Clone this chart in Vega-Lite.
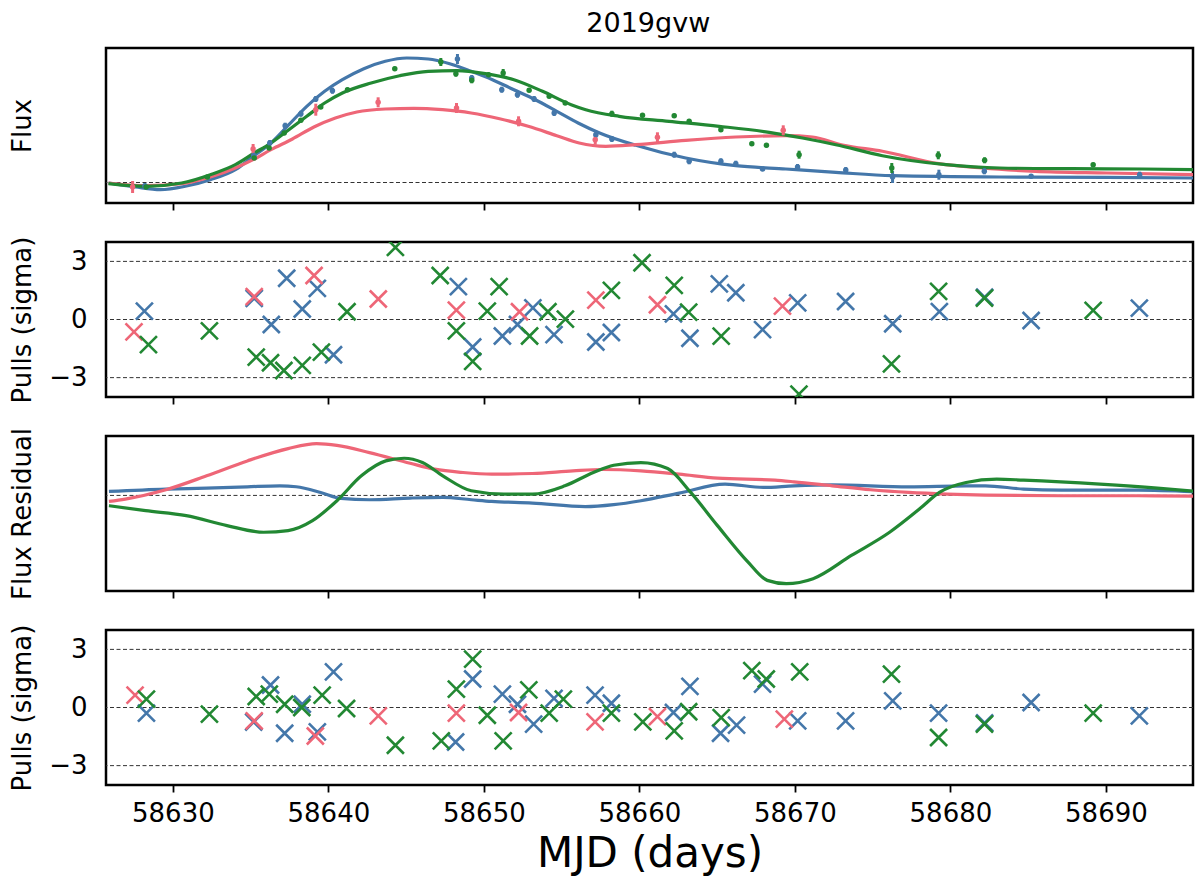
{
  "$schema": "https://vega.github.io/schema/vega-lite/v6.json",
  "background": "white",
  "padding": {"left": 7, "top": 9, "right": 6, "bottom": 4},
  "title": {"text": "2019gvw", "font": "DejaVu Sans", "fontSize": 27, "fontWeight": "normal", "color": "black", "anchor": "middle", "offset": 9, "dx": 47},
  "datasets": {
    "model": [
      {"band": "g", "mjd": 58625.86, "flux": -0.5}, {"band": "g", "mjd": 58627.59, "flux": -4.5}, {"band": "g", "mjd": 58629.2, "flux": -7.2},
      {"band": "g", "mjd": 58630.8, "flux": -3.8}, {"band": "g", "mjd": 58632.41, "flux": 2.8}, {"band": "g", "mjd": 58634.02, "flux": 12.8},
      {"band": "g", "mjd": 58635.16, "flux": 26.2}, {"band": "g", "mjd": 58636.31, "flux": 39.5}, {"band": "g", "mjd": 58637.46, "flux": 57.8},
      {"band": "g", "mjd": 58638.61, "flux": 76.2}, {"band": "g", "mjd": 58639.76, "flux": 91.2}, {"band": "g", "mjd": 58640.9, "flux": 102.8},
      {"band": "g", "mjd": 58642.28, "flux": 113.8}, {"band": "g", "mjd": 58643.66, "flux": 121.2}, {"band": "g", "mjd": 58645.04, "flux": 124.5},
      {"band": "g", "mjd": 58646.42, "flux": 123.5}, {"band": "g", "mjd": 58647.8, "flux": 118.8}, {"band": "g", "mjd": 58649.18, "flux": 111.2},
      {"band": "g", "mjd": 58650.55, "flux": 102.8}, {"band": "g", "mjd": 58651.93, "flux": 92.8}, {"band": "g", "mjd": 58653.31, "flux": 82.8},
      {"band": "g", "mjd": 58654.69, "flux": 71.2}, {"band": "g", "mjd": 58656.06, "flux": 59.5}, {"band": "g", "mjd": 58657.44, "flux": 49.5},
      {"band": "g", "mjd": 58659.77, "flux": 37.2}, {"band": "g", "mjd": 58662.98, "flux": 24.5}, {"band": "g", "mjd": 58666.2, "flux": 16.8},
      {"band": "g", "mjd": 58669.42, "flux": 13.5}, {"band": "g", "mjd": 58672.63, "flux": 10.2}, {"band": "g", "mjd": 58676.28, "flux": 6.8},
      {"band": "g", "mjd": 58683.16, "flux": 5.5}, {"band": "g", "mjd": 58690.04, "flux": 5.2}, {"band": "g", "mjd": 58695.76, "flux": 4.5},
      {"band": "r", "mjd": 58625.86, "flux": -0.5}, {"band": "r", "mjd": 58628.28, "flux": -3.2}, {"band": "r", "mjd": 58630.57, "flux": -1.2},
      {"band": "r", "mjd": 58632.41, "flux": 5.5}, {"band": "r", "mjd": 58634.02, "flux": 14.5}, {"band": "r", "mjd": 58635.16, "flux": 22.8},
      {"band": "r", "mjd": 58636.31, "flux": 32.8}, {"band": "r", "mjd": 58637.69, "flux": 43.5}, {"band": "r", "mjd": 58639.07, "flux": 55.5},
      {"band": "r", "mjd": 58640.45, "flux": 64.5}, {"band": "r", "mjd": 58641.83, "flux": 70.5}, {"band": "r", "mjd": 58643.66, "flux": 73.5},
      {"band": "r", "mjd": 58645.5, "flux": 74.2}, {"band": "r", "mjd": 58647.34, "flux": 72.8}, {"band": "r", "mjd": 58649.18, "flux": 69.5},
      {"band": "r", "mjd": 58651.01, "flux": 63.8}, {"band": "r", "mjd": 58652.85, "flux": 56.2}, {"band": "r", "mjd": 58654.69, "flux": 46.8},
      {"band": "r", "mjd": 58656.13, "flux": 39.5}, {"band": "r", "mjd": 58657.84, "flux": 36.2}, {"band": "r", "mjd": 58659.77, "flux": 37.8},
      {"band": "r", "mjd": 58662.98, "flux": 42.2}, {"band": "r", "mjd": 58666.2, "flux": 45.5}, {"band": "r", "mjd": 58669.42, "flux": 46.8},
      {"band": "r", "mjd": 58671.13, "flux": 45.5}, {"band": "r", "mjd": 58673.06, "flux": 37.5}, {"band": "r", "mjd": 58675.63, "flux": 31.2},
      {"band": "r", "mjd": 58679.26, "flux": 18.8}, {"band": "r", "mjd": 58682.02, "flux": 14.5}, {"band": "r", "mjd": 58685.47, "flux": 11.2},
      {"band": "r", "mjd": 58690.06, "flux": 9.5}, {"band": "r", "mjd": 58695.76, "flux": 7.8},
      {"band": "i", "mjd": 58625.86, "flux": -1.2}, {"band": "i", "mjd": 58628.28, "flux": -3.8}, {"band": "i", "mjd": 58630.57, "flux": -0.5},
      {"band": "i", "mjd": 58632.41, "flux": 7.8}, {"band": "i", "mjd": 58634.02, "flux": 17.8}, {"band": "i", "mjd": 58635.16, "flux": 28.8},
      {"band": "i", "mjd": 58636.31, "flux": 39.5}, {"band": "i", "mjd": 58637.46, "flux": 52.8}, {"band": "i", "mjd": 58638.61, "flux": 66.2},
      {"band": "i", "mjd": 58639.76, "flux": 79.5}, {"band": "i", "mjd": 58640.9, "flux": 89.5}, {"band": "i", "mjd": 58642.75, "flux": 99.5},
      {"band": "i", "mjd": 58644.58, "flux": 106.8}, {"band": "i", "mjd": 58646.42, "flux": 111.2}, {"band": "i", "mjd": 58648.26, "flux": 111.8},
      {"band": "i", "mjd": 58650.1, "flux": 108.8}, {"band": "i", "mjd": 58651.93, "flux": 102.8}, {"band": "i", "mjd": 58653.77, "flux": 91.2},
      {"band": "i", "mjd": 58655.61, "flux": 77.8}, {"band": "i", "mjd": 58656.55, "flux": 72.8}, {"band": "i", "mjd": 58658.7, "flux": 66.2},
      {"band": "i", "mjd": 58661.91, "flux": 61.2}, {"band": "i", "mjd": 58665.13, "flux": 56.2}, {"band": "i", "mjd": 58668.35, "flux": 50.2},
      {"band": "i", "mjd": 58670.49, "flux": 44.5}, {"band": "i", "mjd": 58672.63, "flux": 37.8}, {"band": "i", "mjd": 58675.63, "flux": 26.8},
      {"band": "i", "mjd": 58679.72, "flux": 17.8}, {"band": "i", "mjd": 58683.17, "flux": 14.5}, {"band": "i", "mjd": 58687.76, "flux": 13.8},
      {"band": "i", "mjd": 58692.35, "flux": 13.5}, {"band": "i", "mjd": 58695.76, "flux": 12.8}
    ],
    "obs": [
      {"band": "g", "mjd": 58628.2, "flux": -3.5, "err": 3}, {"band": "g", "mjd": 58635.2, "flux": 27, "err": 3},
      {"band": "g", "mjd": 58636.23, "flux": 39.5, "err": 3}, {"band": "g", "mjd": 58637.22, "flux": 56.8, "err": 3},
      {"band": "g", "mjd": 58638.23, "flux": 68.8, "err": 3}, {"band": "g", "mjd": 58639.19, "flux": 83.5, "err": 3},
      {"band": "g", "mjd": 58640.26, "flux": 91.8, "err": 3}, {"band": "g", "mjd": 58648.3, "flux": 123.5, "err": 5},
      {"band": "g", "mjd": 58649.22, "flux": 104.5, "err": 3}, {"band": "g", "mjd": 58651.15, "flux": 92.8, "err": 3},
      {"band": "g", "mjd": 58652.16, "flux": 87.8, "err": 3}, {"band": "g", "mjd": 58653.23, "flux": 83.5, "err": 3},
      {"band": "g", "mjd": 58654.52, "flux": 69.5, "err": 3}, {"band": "g", "mjd": 58657.2, "flux": 47.8, "err": 4},
      {"band": "g", "mjd": 58658.23, "flux": 43.5, "err": 3}, {"band": "g", "mjd": 58662.24, "flux": 27.8, "err": 3},
      {"band": "g", "mjd": 58663.2, "flux": 21.2, "err": 3}, {"band": "g", "mjd": 58665.24, "flux": 21.2, "err": 3},
      {"band": "g", "mjd": 58666.2, "flux": 18.8, "err": 3}, {"band": "g", "mjd": 58667.92, "flux": 13.5, "err": 2},
      {"band": "g", "mjd": 58670.17, "flux": 15.5, "err": 3}, {"band": "g", "mjd": 58673.27, "flux": 12.5, "err": 3},
      {"band": "g", "mjd": 58676.28, "flux": 5.5, "err": 6}, {"band": "g", "mjd": 58679.26, "flux": 7.8, "err": 5},
      {"band": "g", "mjd": 58682.18, "flux": 11.2, "err": 3}, {"band": "g", "mjd": 58685.19, "flux": 6.2, "err": 2},
      {"band": "g", "mjd": 58692.17, "flux": 7.8, "err": 3},
      {"band": "r", "mjd": 58627.41, "flux": -4.5, "err": 6}, {"band": "r", "mjd": 58635.16, "flux": 33.5, "err": 5},
      {"band": "r", "mjd": 58639.19, "flux": 72.8, "err": 6}, {"band": "r", "mjd": 58643.2, "flux": 80.2, "err": 5},
      {"band": "r", "mjd": 58648.24, "flux": 74.5, "err": 5}, {"band": "r", "mjd": 58652.23, "flux": 61.2, "err": 5},
      {"band": "r", "mjd": 58657.16, "flux": 42.8, "err": 5}, {"band": "r", "mjd": 58661.16, "flux": 45.2, "err": 5},
      {"band": "r", "mjd": 58669.25, "flux": 52.2, "err": 5},
      {"band": "i", "mjd": 58628.28, "flux": -4.5, "err": 2}, {"band": "i", "mjd": 58632.22, "flux": 5.5, "err": 2},
      {"band": "i", "mjd": 58635.23, "flux": 24.5, "err": 2}, {"band": "i", "mjd": 58636.19, "flux": 34.5, "err": 2},
      {"band": "i", "mjd": 58637.16, "flux": 49.5, "err": 2}, {"band": "i", "mjd": 58638.23, "flux": 62.2, "err": 2},
      {"band": "i", "mjd": 58639.51, "flux": 75.5, "err": 2}, {"band": "i", "mjd": 58641.23, "flux": 92.8, "err": 2},
      {"band": "i", "mjd": 58644.27, "flux": 113.8, "err": 2}, {"band": "i", "mjd": 58647.23, "flux": 120.5, "err": 4},
      {"band": "i", "mjd": 58648.2, "flux": 108.8, "err": 3}, {"band": "i", "mjd": 58649.22, "flux": 102.2, "err": 3},
      {"band": "i", "mjd": 58650.3, "flux": 107.8, "err": 2}, {"band": "i", "mjd": 58651.24, "flux": 109.5, "err": 4},
      {"band": "i", "mjd": 58652.91, "flux": 92.2, "err": 2}, {"band": "i", "mjd": 58654.2, "flux": 86.2, "err": 2},
      {"band": "i", "mjd": 58655.23, "flux": 79.5, "err": 2}, {"band": "i", "mjd": 58658.23, "flux": 68.8, "err": 3},
      {"band": "i", "mjd": 58660.2, "flux": 67.2, "err": 2}, {"band": "i", "mjd": 58662.24, "flux": 66.8, "err": 2},
      {"band": "i", "mjd": 58663.2, "flux": 61.2, "err": 2}, {"band": "i", "mjd": 58665.24, "flux": 52.8, "err": 2},
      {"band": "i", "mjd": 58667.23, "flux": 38.8, "err": 2}, {"band": "i", "mjd": 58668.17, "flux": 37.2, "err": 2},
      {"band": "i", "mjd": 58670.27, "flux": 27.8, "err": 4}, {"band": "i", "mjd": 58676.23, "flux": 14.5, "err": 5},
      {"band": "i", "mjd": 58679.22, "flux": 27.2, "err": 4}, {"band": "i", "mjd": 58682.2, "flux": 22.2, "err": 3},
      {"band": "i", "mjd": 58689.18, "flux": 17.8, "err": 2}
    ],
    "pull1": [
      {"band": "g", "mjd": 58628.17, "pull": 0.43}, {"band": "g", "mjd": 58635.23, "pull": 1.09}, {"band": "g", "mjd": 58636.33, "pull": -0.26},
      {"band": "g", "mjd": 58637.32, "pull": 2.13}, {"band": "g", "mjd": 58638.32, "pull": 0.54}, {"band": "g", "mjd": 58639.29, "pull": 1.61},
      {"band": "g", "mjd": 58640.33, "pull": -1.82}, {"band": "g", "mjd": 58648.36, "pull": 1.7}, {"band": "g", "mjd": 58649.28, "pull": -1.42},
      {"band": "g", "mjd": 58651.19, "pull": -0.85}, {"band": "g", "mjd": 58652.16, "pull": -0.26}, {"band": "g", "mjd": 58653.15, "pull": 0.6},
      {"band": "g", "mjd": 58654.51, "pull": -0.78}, {"band": "g", "mjd": 58657.2, "pull": -1.16}, {"band": "g", "mjd": 58658.2, "pull": -0.67},
      {"band": "g", "mjd": 58662.19, "pull": 0.29}, {"band": "g", "mjd": 58663.25, "pull": -0.97}, {"band": "g", "mjd": 58665.14, "pull": 1.84},
      {"band": "g", "mjd": 58666.2, "pull": 1.38}, {"band": "g", "mjd": 58667.92, "pull": -0.52}, {"band": "g", "mjd": 58670.18, "pull": 0.86},
      {"band": "g", "mjd": 58673.26, "pull": 0.93}, {"band": "g", "mjd": 58676.29, "pull": -0.22}, {"band": "g", "mjd": 58679.29, "pull": 0.41},
      {"band": "g", "mjd": 58682.2, "pull": 1.15}, {"band": "g", "mjd": 58685.19, "pull": -0.05}, {"band": "g", "mjd": 58692.15, "pull": 0.59},
      {"band": "r", "mjd": 58627.5, "pull": -0.64}, {"band": "r", "mjd": 58635.23, "pull": 1.18}, {"band": "r", "mjd": 58639.08, "pull": 2.27},
      {"band": "r", "mjd": 58643.21, "pull": 1.06}, {"band": "r", "mjd": 58648.23, "pull": 0.48}, {"band": "r", "mjd": 58652.29, "pull": 0.4},
      {"band": "r", "mjd": 58657.2, "pull": 1.0}, {"band": "r", "mjd": 58661.16, "pull": 0.76}, {"band": "r", "mjd": 58669.2, "pull": 0.69},
      {"band": "i", "mjd": 58628.43, "pull": -1.3}, {"band": "i", "mjd": 58632.35, "pull": -0.59}, {"band": "i", "mjd": 58635.36, "pull": -1.94},
      {"band": "i", "mjd": 58636.28, "pull": -2.23}, {"band": "i", "mjd": 58637.14, "pull": -2.63}, {"band": "i", "mjd": 58638.32, "pull": -2.37},
      {"band": "i", "mjd": 58639.55, "pull": -1.68}, {"band": "i", "mjd": 58641.2, "pull": 0.4}, {"band": "i", "mjd": 58644.31, "pull": 3.72},
      {"band": "i", "mjd": 58647.19, "pull": 2.27}, {"band": "i", "mjd": 58648.23, "pull": -0.59}, {"band": "i", "mjd": 58649.28, "pull": -2.16},
      {"band": "i", "mjd": 58650.22, "pull": 0.43}, {"band": "i", "mjd": 58650.98, "pull": 1.7}, {"band": "i", "mjd": 58652.94, "pull": -0.85},
      {"band": "i", "mjd": 58654.12, "pull": 0.4}, {"band": "i", "mjd": 58655.24, "pull": 0.02}, {"band": "i", "mjd": 58658.2, "pull": 1.5},
      {"band": "i", "mjd": 58660.17, "pull": 2.93}, {"band": "i", "mjd": 58662.24, "pull": 1.76}, {"band": "i", "mjd": 58663.17, "pull": 0.38},
      {"band": "i", "mjd": 58665.26, "pull": -0.86}, {"band": "i", "mjd": 58670.26, "pull": -3.85}, {"band": "i", "mjd": 58676.21, "pull": -2.29},
      {"band": "i", "mjd": 58679.24, "pull": 1.45}, {"band": "i", "mjd": 58682.19, "pull": 1.1}, {"band": "i", "mjd": 58689.18, "pull": 0.47}
    ],
    "resid": [
      {"band": "g", "mjd": 58625.89, "res": 1.2}, {"band": "g", "mjd": 58629.55, "res": 1.9}, {"band": "g", "mjd": 58632.17, "res": 2.2},
      {"band": "g", "mjd": 58634.79, "res": 2.6}, {"band": "g", "mjd": 58636.88, "res": 2.9}, {"band": "g", "mjd": 58637.93, "res": 2.6},
      {"band": "g", "mjd": 58639.5, "res": 0.9}, {"band": "g", "mjd": 58640.81, "res": -0.9}, {"band": "g", "mjd": 58642.64, "res": -1.3},
      {"band": "g", "mjd": 58645.26, "res": -0.8}, {"band": "g", "mjd": 58647.36, "res": -0.6}, {"band": "g", "mjd": 58649.19, "res": -1.3},
      {"band": "g", "mjd": 58650.5, "res": -1.8}, {"band": "g", "mjd": 58653.12, "res": -2.3}, {"band": "g", "mjd": 58656.52, "res": -3.4},
      {"band": "g", "mjd": 58658.35, "res": -2.8}, {"band": "g", "mjd": 58660.1, "res": -1.6}, {"band": "g", "mjd": 58662.56, "res": 0.7},
      {"band": "g", "mjd": 58665.51, "res": 3.4}, {"band": "g", "mjd": 58667.97, "res": 2.4}, {"band": "g", "mjd": 58669.94, "res": 2.9},
      {"band": "g", "mjd": 58672.4, "res": 3.2}, {"band": "g", "mjd": 58677.32, "res": 2.6}, {"band": "g", "mjd": 58681.01, "res": 2.9},
      {"band": "g", "mjd": 58682.24, "res": 2.9}, {"band": "g", "mjd": 58684.7, "res": 1.9}, {"band": "g", "mjd": 58687.16, "res": 1.6},
      {"band": "g", "mjd": 58692.08, "res": 1.6}, {"band": "g", "mjd": 58695.77, "res": 1.1},
      {"band": "r", "mjd": 58625.89, "res": -1.8}, {"band": "r", "mjd": 58626.94, "res": -1.1}, {"band": "r", "mjd": 58629.55, "res": 1.7},
      {"band": "r", "mjd": 58632.17, "res": 5.9}, {"band": "r", "mjd": 58634.79, "res": 10.4}, {"band": "r", "mjd": 58637.41, "res": 14.1},
      {"band": "r", "mjd": 58639.24, "res": 15.6}, {"band": "r", "mjd": 58640.55, "res": 15.1}, {"band": "r", "mjd": 58642.64, "res": 12.9},
      {"band": "r", "mjd": 58645.26, "res": 9.7}, {"band": "r", "mjd": 58646.83, "res": 7.9}, {"band": "r", "mjd": 58648.66, "res": 6.9},
      {"band": "r", "mjd": 58650.5, "res": 6.4}, {"band": "r", "mjd": 58653.12, "res": 6.6}, {"band": "r", "mjd": 58655.73, "res": 7.4},
      {"band": "r", "mjd": 58657.6, "res": 7.8}, {"band": "r", "mjd": 58660.1, "res": 7.4}, {"band": "r", "mjd": 58662.56, "res": 6.4},
      {"band": "r", "mjd": 58665.02, "res": 5.2}, {"band": "r", "mjd": 58668.71, "res": 4.6}, {"band": "r", "mjd": 58669.94, "res": 4.1},
      {"band": "r", "mjd": 58672.4, "res": 2.9}, {"band": "r", "mjd": 58674.86, "res": 1.7}, {"band": "r", "mjd": 58677.32, "res": 0.9},
      {"band": "r", "mjd": 58679.78, "res": 0.4}, {"band": "r", "mjd": 58682.24, "res": 0.1}, {"band": "r", "mjd": 58687.16, "res": -0.1},
      {"band": "r", "mjd": 58692.08, "res": -0.1}, {"band": "r", "mjd": 58695.77, "res": -0.2},
      {"band": "i", "mjd": 58625.89, "res": -3.1}, {"band": "i", "mjd": 58628.25, "res": -4.6}, {"band": "i", "mjd": 58630.86, "res": -6.1},
      {"band": "i", "mjd": 58633.48, "res": -9.1}, {"band": "i", "mjd": 58635.84, "res": -11.1}, {"band": "i", "mjd": 58637.41, "res": -10.6},
      {"band": "i", "mjd": 58638.98, "res": -7.6}, {"band": "i", "mjd": 58640.55, "res": -1.6}, {"band": "i", "mjd": 58642.12, "res": 5.9},
      {"band": "i", "mjd": 58643.69, "res": 10.4}, {"band": "i", "mjd": 58644.87, "res": 11.2}, {"band": "i", "mjd": 58646.05, "res": 9.9},
      {"band": "i", "mjd": 58647.36, "res": 5.9}, {"band": "i", "mjd": 58649.19, "res": 1.4}, {"band": "i", "mjd": 58651.28, "res": 0.4},
      {"band": "i", "mjd": 58653.12, "res": 0.4}, {"band": "i", "mjd": 58655.21, "res": 2.9}, {"band": "i", "mjd": 58657.04, "res": 6.9},
      {"band": "i", "mjd": 58658.35, "res": 9.1}, {"band": "i", "mjd": 58660.1, "res": 9.9}, {"band": "i", "mjd": 58661.82, "res": 8.1},
      {"band": "i", "mjd": 58663.3, "res": 0.9}, {"band": "i", "mjd": 58665.02, "res": -9.1}, {"band": "i", "mjd": 58666.99, "res": -20.1},
      {"band": "i", "mjd": 58668.22, "res": -25.6}, {"band": "i", "mjd": 58669.45, "res": -26.6}, {"band": "i", "mjd": 58671.17, "res": -25.1},
      {"band": "i", "mjd": 58673.63, "res": -18.1}, {"band": "i", "mjd": 58676.09, "res": -11.1}, {"band": "i", "mjd": 58678.06, "res": -3.9},
      {"band": "i", "mjd": 58679.29, "res": 0.9}, {"band": "i", "mjd": 58681.01, "res": 3.9}, {"band": "i", "mjd": 58682.98, "res": 4.9},
      {"band": "i", "mjd": 58684.7, "res": 4.6}, {"band": "i", "mjd": 58689.62, "res": 3.4}, {"band": "i", "mjd": 58693.31, "res": 2.2},
      {"band": "i", "mjd": 58695.77, "res": 1.2}
    ],
    "pull2": [
      {"band": "g", "mjd": 58628.3, "pull": -0.29}, {"band": "g", "mjd": 58635.2, "pull": -0.75}, {"band": "g", "mjd": 58636.28, "pull": 1.16},
      {"band": "g", "mjd": 58637.19, "pull": -1.33}, {"band": "g", "mjd": 58638.32, "pull": 0.17}, {"band": "g", "mjd": 58639.29, "pull": -1.26},
      {"band": "g", "mjd": 58640.33, "pull": 1.84}, {"band": "g", "mjd": 58648.18, "pull": -1.78}, {"band": "g", "mjd": 58649.28, "pull": 1.47},
      {"band": "g", "mjd": 58651.19, "pull": 0.69}, {"band": "g", "mjd": 58652.16, "pull": 0.17}, {"band": "g", "mjd": 58653.2, "pull": -0.86},
      {"band": "g", "mjd": 58654.51, "pull": 0.47}, {"band": "g", "mjd": 58657.15, "pull": 0.64}, {"band": "g", "mjd": 58658.2, "pull": 0.22},
      {"band": "g", "mjd": 58662.19, "pull": -0.26}, {"band": "g", "mjd": 58663.25, "pull": 1.09}, {"band": "g", "mjd": 58665.22, "pull": -1.33},
      {"band": "g", "mjd": 58666.25, "pull": -0.91}, {"band": "g", "mjd": 58667.92, "pull": 1.21}, {"band": "g", "mjd": 58670.18, "pull": -0.69},
      {"band": "g", "mjd": 58673.26, "pull": -0.69}, {"band": "g", "mjd": 58676.29, "pull": 0.34}, {"band": "g", "mjd": 58679.24, "pull": -0.29},
      {"band": "g", "mjd": 58682.2, "pull": -0.8}, {"band": "g", "mjd": 58685.19, "pull": 0.26}, {"band": "g", "mjd": 58692.15, "pull": -0.43},
      {"band": "r", "mjd": 58627.57, "pull": 0.64}, {"band": "r", "mjd": 58635.23, "pull": -0.69}, {"band": "r", "mjd": 58639.16, "pull": -1.47},
      {"band": "r", "mjd": 58643.21, "pull": -0.43}, {"band": "r", "mjd": 58648.23, "pull": -0.29}, {"band": "r", "mjd": 58652.23, "pull": -0.26},
      {"band": "r", "mjd": 58657.15, "pull": -0.74}, {"band": "r", "mjd": 58661.16, "pull": -0.47}, {"band": "r", "mjd": 58669.32, "pull": -0.6},
      {"band": "i", "mjd": 58628.3, "pull": 0.43}, {"band": "i", "mjd": 58632.35, "pull": -0.34}, {"band": "i", "mjd": 58635.36, "pull": 0.57},
      {"band": "i", "mjd": 58636.2, "pull": 0.69}, {"band": "i", "mjd": 58637.19, "pull": 0.17}, {"band": "i", "mjd": 58638.29, "pull": 0.0},
      {"band": "i", "mjd": 58639.6, "pull": 0.64}, {"band": "i", "mjd": 58641.17, "pull": -0.05}, {"band": "i", "mjd": 58644.31, "pull": -1.95},
      {"band": "i", "mjd": 58647.26, "pull": -1.72}, {"band": "i", "mjd": 58648.23, "pull": 0.95}, {"band": "i", "mjd": 58649.28, "pull": 2.5},
      {"band": "i", "mjd": 58650.22, "pull": -0.4}, {"band": "i", "mjd": 58651.24, "pull": -1.72}, {"band": "i", "mjd": 58652.89, "pull": 0.91},
      {"band": "i", "mjd": 58654.2, "pull": -0.29}, {"band": "i", "mjd": 58655.11, "pull": 0.43}, {"band": "i", "mjd": 58658.2, "pull": -0.29},
      {"band": "i", "mjd": 58660.22, "pull": -0.74}, {"band": "i", "mjd": 58662.24, "pull": -1.21}, {"band": "i", "mjd": 58663.17, "pull": -0.22},
      {"band": "i", "mjd": 58665.26, "pull": -0.52}, {"band": "i", "mjd": 58667.23, "pull": 1.9}, {"band": "i", "mjd": 58668.16, "pull": 1.47},
      {"band": "i", "mjd": 58670.31, "pull": 1.84}, {"band": "i", "mjd": 58676.21, "pull": 1.72}, {"band": "i", "mjd": 58679.24, "pull": -1.55},
      {"band": "i", "mjd": 58682.19, "pull": -0.86}, {"band": "i", "mjd": 58689.18, "pull": -0.29}
    ],
    "zero": [{"v": 0}],
    "sigma": [{"v": -3}, {"v": 0}, {"v": 3}]
  },
  "vconcat": [
    {
      "width": 1087, "height": 155,
      "layer": [
        {"data": {"name": "zero"}, "mark": {"type": "rule", "color": "#333333", "strokeWidth": 1, "strokeDash": [4, 2.5]},
         "encoding": {"y": {"field": "v", "type": "quantitative", "scale": {"domain": [-20.5, 134.5], "nice": false, "zero": false},
           "axis": {"labels": false, "ticks": false, "domain": false, "grid": false, "title": "Flux", "titleX": -84, "titleY": 77.5, "titleAngle": 270, "titleBaseline": "middle", "titleAlign": "center"}}}},
        {"data": {"name": "model"}, "mark": {"type": "line", "strokeWidth": 3.2, "clip": true, "interpolate": "monotone"},
         "encoding": {
           "x": {"field": "mjd", "type": "quantitative", "scale": {"domain": [58625.7, 58695.6], "nice": false, "zero": false},
             "axis": {"values": [58630, 58640, 58650, 58660, 58670, 58680, 58690], "labels": false, "tickSize": 7, "tickWidth": 1.8, "tickColor": "black", "domain": false, "grid": false, "title": null}},
           "y": {"field": "flux", "type": "quantitative", "scale": {"domain": [-20.5, 134.5], "nice": false, "zero": false},
             "axis": {"labels": false, "ticks": false, "domain": false, "grid": false, "title": "Flux", "titleX": -84, "titleY": 77.5, "titleAngle": 270, "titleBaseline": "middle", "titleAlign": "center"}},
           "color": {"field": "band", "type": "nominal", "scale": {"domain": ["g", "r", "i"], "range": ["#4477AA", "#EE6677", "#228833"]}, "legend": null}}},
        {"data": {"name": "obs"}, "mark": {"type": "errorbar", "thickness": 3},
         "encoding": {
           "x": {"field": "mjd", "type": "quantitative", "scale": {"domain": [58625.7, 58695.6], "nice": false, "zero": false},
             "axis": {"values": [58630, 58640, 58650, 58660, 58670, 58680, 58690], "labels": false, "tickSize": 7, "tickWidth": 1.8, "tickColor": "black", "domain": false, "grid": false, "title": null}},
           "y": {"field": "flux", "type": "quantitative", "scale": {"domain": [-20.5, 134.5], "nice": false, "zero": false},
             "axis": {"labels": false, "ticks": false, "domain": false, "grid": false, "title": "Flux", "titleX": -84, "titleY": 77.5, "titleAngle": 270, "titleBaseline": "middle", "titleAlign": "center"}},
           "yError": {"field": "err"},
           "color": {"field": "band", "type": "nominal", "scale": {"domain": ["g", "r", "i"], "range": ["#4477AA", "#EE6677", "#228833"]}, "legend": null}}},
        {"data": {"name": "obs"}, "mark": {"type": "circle", "size": 30, "opacity": 1},
         "encoding": {
           "x": {"field": "mjd", "type": "quantitative", "scale": {"domain": [58625.7, 58695.6], "nice": false, "zero": false},
             "axis": {"values": [58630, 58640, 58650, 58660, 58670, 58680, 58690], "labels": false, "tickSize": 7, "tickWidth": 1.8, "tickColor": "black", "domain": false, "grid": false, "title": null}},
           "y": {"field": "flux", "type": "quantitative", "scale": {"domain": [-20.5, 134.5], "nice": false, "zero": false},
             "axis": {"labels": false, "ticks": false, "domain": false, "grid": false, "title": "Flux", "titleX": -84, "titleY": 77.5, "titleAngle": 270, "titleBaseline": "middle", "titleAlign": "center"}},
           "color": {"field": "band", "type": "nominal", "scale": {"domain": ["g", "r", "i"], "range": ["#4477AA", "#EE6677", "#228833"]}, "legend": null}}}
      ]
    },
    {
      "width": 1087, "height": 155,
      "layer": [
        {"data": {"name": "sigma"}, "mark": {"type": "rule", "color": "#333333", "strokeWidth": 1, "strokeDash": [4, 2.5]},
         "encoding": {"y": {"field": "v", "type": "quantitative", "scale": {"domain": [-4, 4], "nice": false, "zero": false},
           "axis": {"values": [-3, 0, 3], "format": "d", "ticks": false, "labelPadding": 19, "domain": false, "grid": false, "title": "Pulls (sigma)", "titleX": -84, "titleY": 77.5, "titleAngle": 270, "titleBaseline": "middle", "titleAlign": "center"}}}},
        {"data": {"name": "pull1"}, "mark": {"type": "point", "shape": "M-1,-1L1,1M-1,1L1,-1", "size": 289, "filled": false, "strokeWidth": 2.6, "opacity": 1, "clip": true},
         "encoding": {
           "x": {"field": "mjd", "type": "quantitative", "scale": {"domain": [58625.7, 58695.6], "nice": false, "zero": false},
             "axis": {"values": [58630, 58640, 58650, 58660, 58670, 58680, 58690], "labels": false, "tickSize": 7, "tickWidth": 1.8, "tickColor": "black", "domain": false, "grid": false, "title": null}},
           "y": {"field": "pull", "type": "quantitative", "scale": {"domain": [-4, 4], "nice": false, "zero": false},
             "axis": {"values": [-3, 0, 3], "format": "d", "ticks": false, "labelPadding": 19, "domain": false, "grid": false, "title": "Pulls (sigma)", "titleX": -84, "titleY": 77.5, "titleAngle": 270, "titleBaseline": "middle", "titleAlign": "center"}},
           "color": {"field": "band", "type": "nominal", "scale": {"domain": ["g", "r", "i"], "range": ["#4477AA", "#EE6677", "#228833"]}, "legend": null}}}
      ]
    },
    {
      "width": 1087, "height": 155,
      "layer": [
        {"data": {"name": "zero"}, "mark": {"type": "rule", "color": "#333333", "strokeWidth": 1, "strokeDash": [4, 2.5]},
         "encoding": {"y": {"field": "v", "type": "quantitative", "scale": {"domain": [-28.8, 17.9], "nice": false, "zero": false},
           "axis": {"labels": false, "ticks": false, "domain": false, "grid": false, "title": "Flux Residual", "titleX": -84, "titleY": 77.5, "titleAngle": 270, "titleBaseline": "middle", "titleAlign": "center"}}}},
        {"data": {"name": "resid"}, "mark": {"type": "line", "strokeWidth": 3.2, "clip": true, "interpolate": "monotone"},
         "encoding": {
           "x": {"field": "mjd", "type": "quantitative", "scale": {"domain": [58625.7, 58695.6], "nice": false, "zero": false},
             "axis": {"values": [58630, 58640, 58650, 58660, 58670, 58680, 58690], "labels": false, "tickSize": 7, "tickWidth": 1.8, "tickColor": "black", "domain": false, "grid": false, "title": null}},
           "y": {"field": "res", "type": "quantitative", "scale": {"domain": [-28.8, 17.9], "nice": false, "zero": false},
             "axis": {"labels": false, "ticks": false, "domain": false, "grid": false, "title": "Flux Residual", "titleX": -84, "titleY": 77.5, "titleAngle": 270, "titleBaseline": "middle", "titleAlign": "center"}},
           "color": {"field": "band", "type": "nominal", "scale": {"domain": ["g", "r", "i"], "range": ["#4477AA", "#EE6677", "#228833"]}, "legend": null}}}
      ]
    },
    {
      "width": 1087, "height": 155,
      "layer": [
        {"data": {"name": "sigma"}, "mark": {"type": "rule", "color": "#333333", "strokeWidth": 1, "strokeDash": [4, 2.5]},
         "encoding": {"y": {"field": "v", "type": "quantitative", "scale": {"domain": [-4, 4], "nice": false, "zero": false},
           "axis": {"values": [-3, 0, 3], "format": "d", "ticks": false, "labelPadding": 19, "domain": false, "grid": false, "title": "Pulls (sigma)", "titleX": -84, "titleY": 77.5, "titleAngle": 270, "titleBaseline": "middle", "titleAlign": "center"}}}},
        {"data": {"name": "pull2"}, "mark": {"type": "point", "shape": "M-1,-1L1,1M-1,1L1,-1", "size": 289, "filled": false, "strokeWidth": 2.6, "opacity": 1, "clip": true},
         "encoding": {
           "x": {"field": "mjd", "type": "quantitative", "scale": {"domain": [58625.7, 58695.6], "nice": false, "zero": false},
             "axis": {"values": [58630, 58640, 58650, 58660, 58670, 58680, 58690], "format": "d", "tickSize": 7, "tickWidth": 1.8, "tickColor": "black", "labelPadding": 8, "domain": false, "grid": false, "title": "MJD (days)", "titleFontSize": 42, "titlePadding": 7}},
           "y": {"field": "pull", "type": "quantitative", "scale": {"domain": [-4, 4], "nice": false, "zero": false},
             "axis": {"values": [-3, 0, 3], "format": "d", "ticks": false, "labelPadding": 19, "domain": false, "grid": false, "title": "Pulls (sigma)", "titleX": -84, "titleY": 77.5, "titleAngle": 270, "titleBaseline": "middle", "titleAlign": "center"}},
           "color": {"field": "band", "type": "nominal", "scale": {"domain": ["g", "r", "i"], "range": ["#4477AA", "#EE6677", "#228833"]}, "legend": null}}}
      ]
    }
  ],
  "spacing": 39,
  "bounds": "flush",
  "config": {
    "font": "DejaVu Sans",
    "view": {"stroke": "black", "strokeWidth": 2.5},
    "axis": {"labelFont": "DejaVu Sans", "labelFontSize": 26, "labelColor": "black", "titleFont": "DejaVu Sans", "titleFontSize": 26, "titleFontWeight": "normal", "titleColor": "black"}
  }
}
